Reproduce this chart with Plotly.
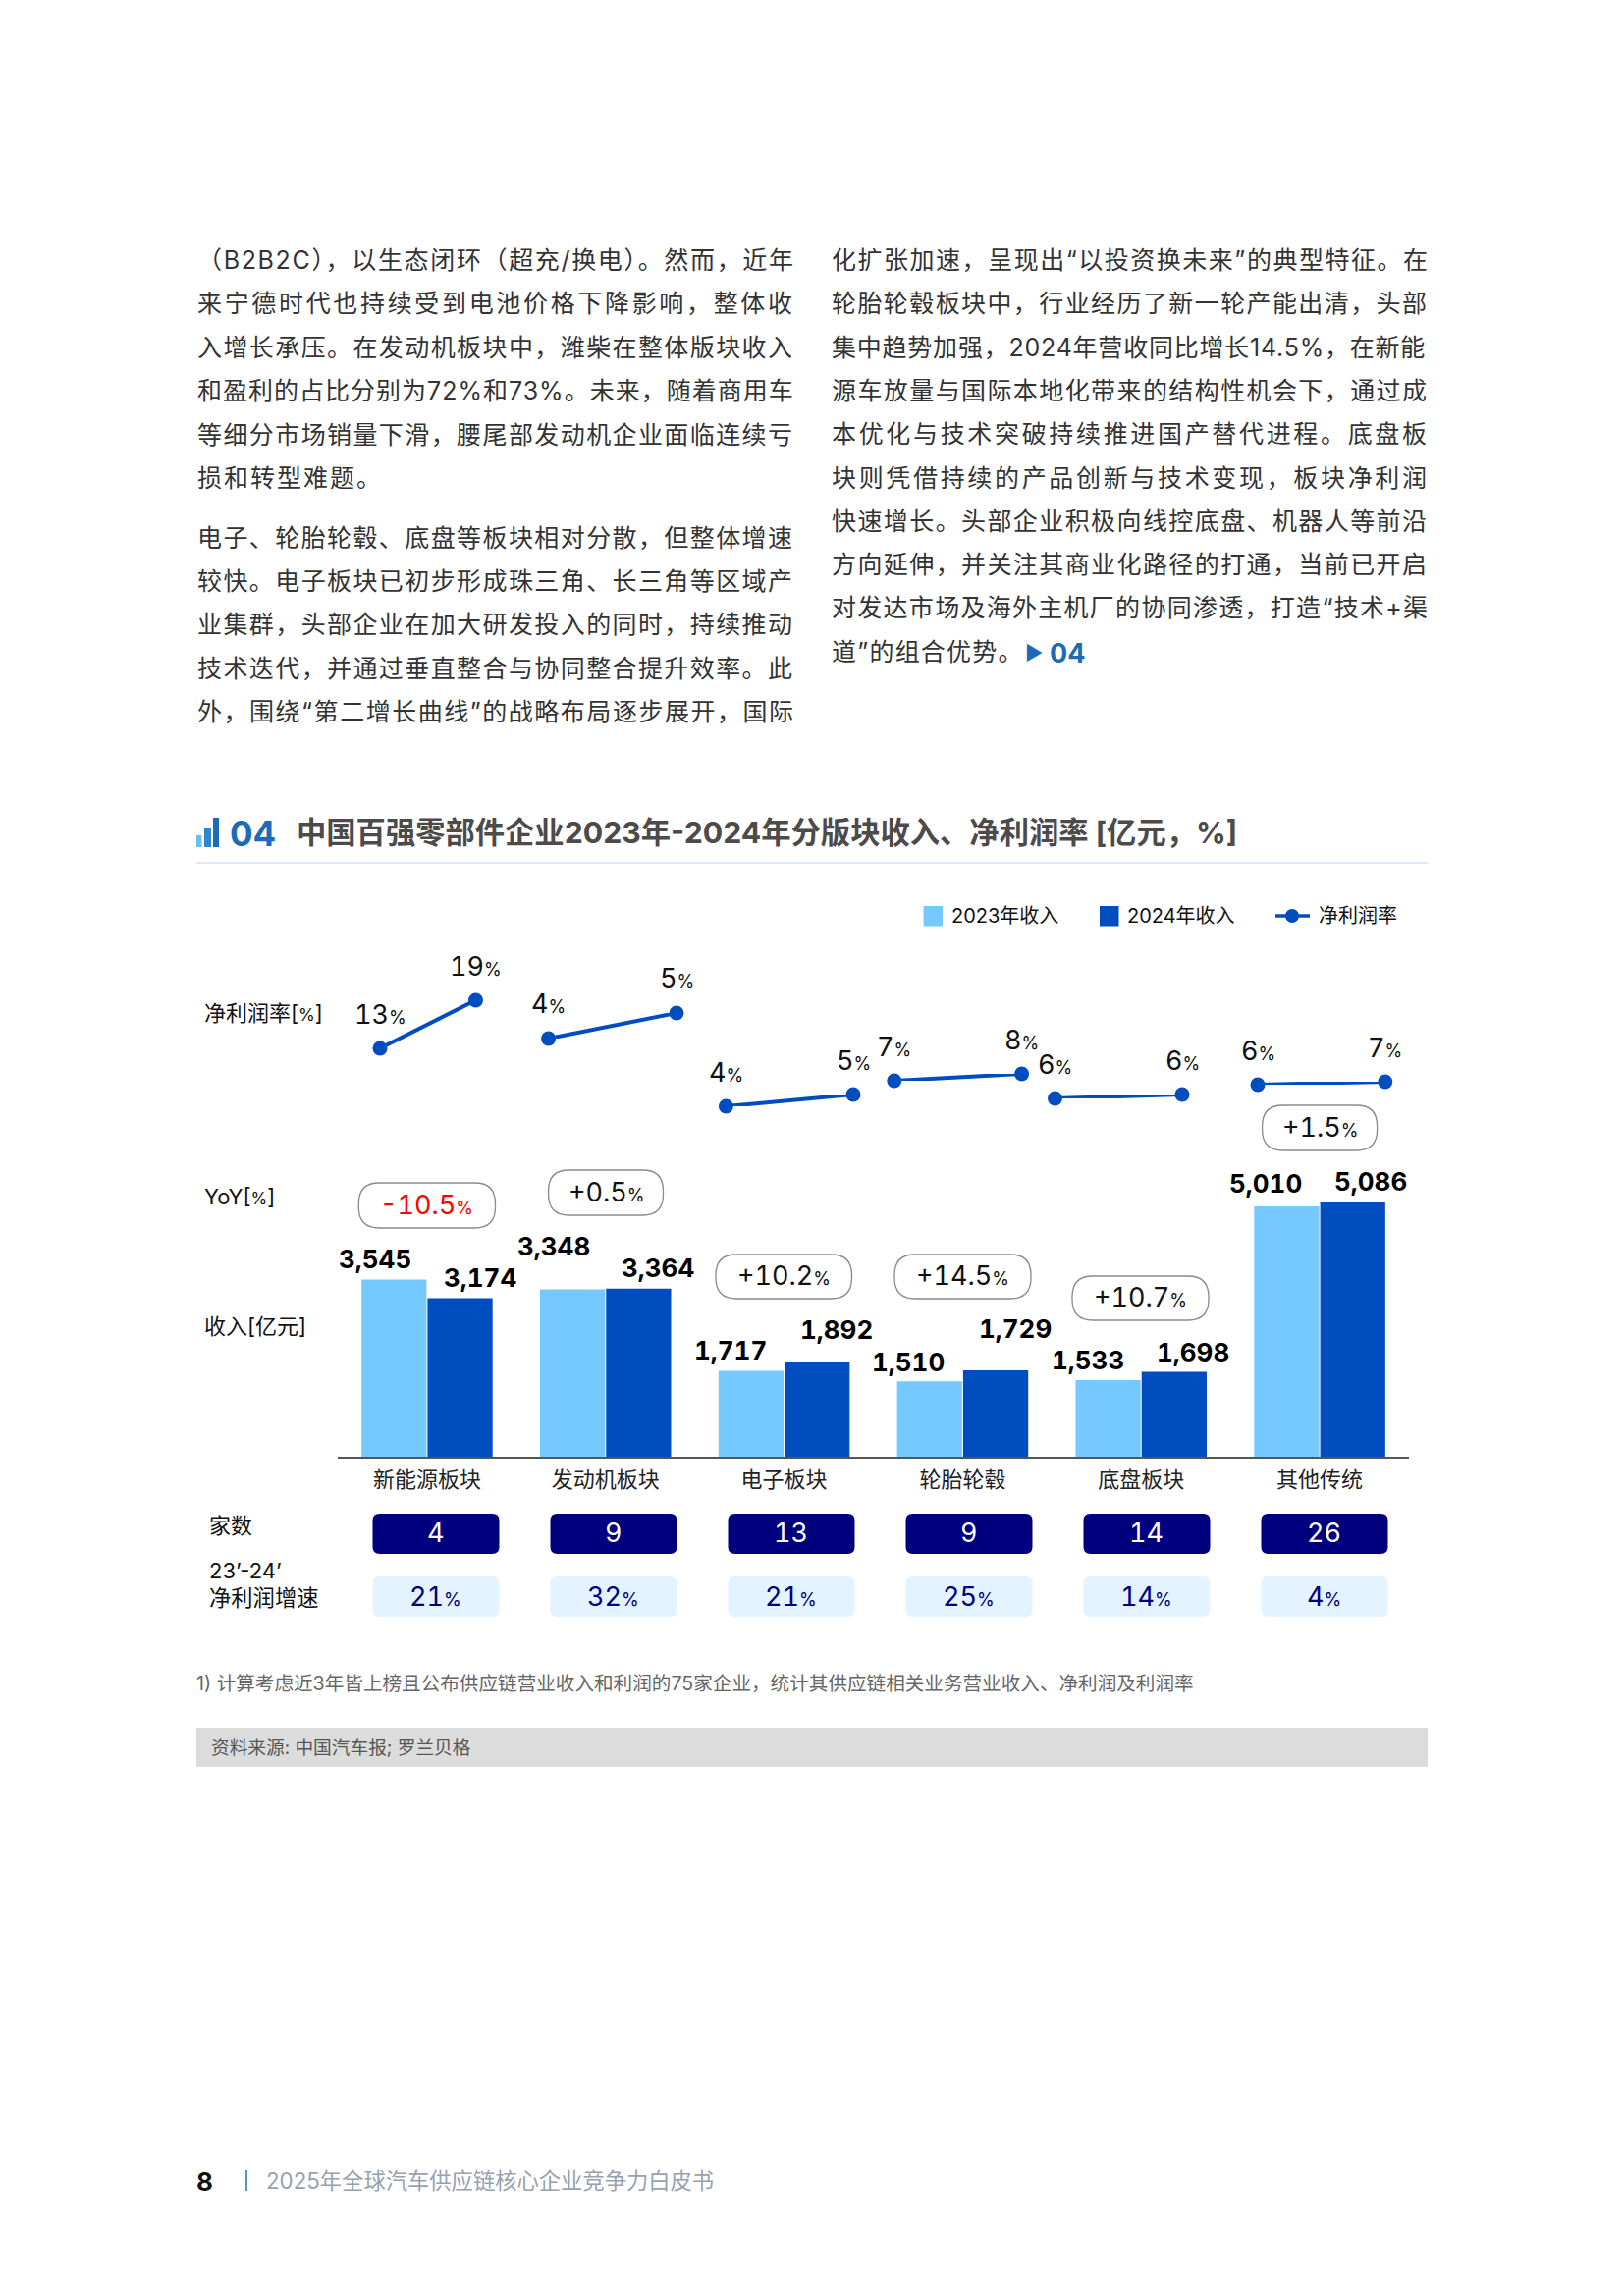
import plotly.graph_objects as go

W, H = 1654, 2339
FONT = "Inter, Noto Sans CJK SC"

# ---------- data ----------
categories = ["新能源板块", "发动机板块", "电子板块", "轮胎轮毂", "底盘板块", "其他传统"]
revenue_2023 = [3545, 3348, 1717, 1510, 1533, 5010]
revenue_2024 = [3174, 3364, 1892, 1729, 1698, 5086]
margin_2023 = [13, 4, 4, 7, 5.8, 6.4]
margin_2024 = [19, 5, 5, 8, 6.2, 6.6]
yoy_labels = ["-10.5", "+0.5", "+10.2", "+14.5", "+10.7", "+1.5"]
company_counts = [4, 9, 13, 9, 14, 26]
profit_growth = [21, 32, 21, 25, 14, 4]

left_lines_a = [
    "（B2B2C），以生态闭环（超充/换电）。然而，近年",
    "来宁德时代也持续受到电池价格下降影响，整体收",
    "入增长承压。在发动机板块中，潍柴在整体版块收入",
    "和盈利的占比分别为72%和73%。未来，随着商用车",
    "等细分市场销量下滑，腰尾部发动机企业面临连续亏",
    "损和转型难题。",
]
left_lines_b = [
    "电子、轮胎轮毂、底盘等板块相对分散，但整体增速",
    "较快。电子板块已初步形成珠三角、长三角等区域产",
    "业集群，头部企业在加大研发投入的同时，持续推动",
    "技术迭代，并通过垂直整合与协同整合提升效率。此",
    "外，围绕“第二增长曲线”的战略布局逐步展开，国际",
]
right_lines = [
    "化扩张加速，呈现出“以投资换未来”的典型特征。在",
    "轮胎轮毂板块中，行业经历了新一轮产能出清，头部",
    "集中趋势加强，2024年营收同比增长14.5%，在新能",
    "源车放量与国际本地化带来的结构性机会下，通过成",
    "本优化与技术突破持续推进国产替代进程。底盘板",
    "块则凭借持续的产品创新与技术变现，板块净利润",
    "快速增长。头部企业积极向线控底盘、机器人等前沿",
    "方向延伸，并关注其商业化路径的打通，当前已开启",
    "对发达市场及海外主机厂的协同渗透，打造“技术+渠",
    "道”的组合优势。",
]

# ---------- layout constants (page pixels) ----------
LIGHT, DARK, NAVY = "#75C9FF", "#004DC0", "#00007F"
BASE_Y = 1484
PLOT_L, PLOT_R = 344, 1435
PX_PER_UNIT = 0.0509
Y_MAX = 6000
BODY_SIZE = 25
COLUMN_W = 606
panel_x = [(387, 484.5), (558.6, 689), (739.4, 869), (910.8, 1040.6), (1074.5, 1204), (1281, 1410.8)]
panel_y = [(1068, 1019), (1058, 1032), (1127, 1115), (1101, 1094), (1119, 1115), (1105, 1102)]
label_dx = [(-19, 20), (-19, 20), (-21, 20), (-22, 20), (-21, 19), (-21, 18)]
label_dy = [(21, 21), (44, 21), (21, 33), (20, 42), (20, 20), (23, 22)]
yoy_pills = [(365.3, 504.5, 1205, 1251), (558.6, 675.5, 1192, 1238), (729, 867.5, 1278, 1323),
             (911, 1050, 1278, 1323), (1092, 1231, 1300, 1345), (1285.6, 1402.6, 1126, 1172)]
TNUM = "font-feature-settings:&quot;tnum&quot;;font-variant-numeric:tabular-nums;"


def px(x):
    return x / W


def py(y):
    return 1 - y / H


def rr(x0, x1, y0, y1, r, fill, line=None, lw=1.3):
    X0, X1, Y0, Y1 = x0, x1, H - y0, H - y1
    path = (f"M{X0+r},{Y1} L{X1-r},{Y1} Q{X1},{Y1} {X1},{Y1+r} L{X1},{Y0-r} Q{X1},{Y0} {X1-r},{Y0} "
            f"L{X0+r},{Y0} Q{X0},{Y0} {X0},{Y0-r} L{X0},{Y1+r} Q{X0},{Y1} {X0+r},{Y1} Z")
    return dict(type="path", path=path, xref="x99", yref="y99", fillcolor=fill,
                line=dict(color=line or fill, width=lw if line else 0))


def rect(x0, x1, y0, y1, fill):
    return dict(type="rect", xref="x99", yref="y99", x0=x0, x1=x1, y0=H - y1, y1=H - y0,
                fillcolor=fill, line=dict(width=0))


def hline(x0, x1, y, color, w=1.5):
    return dict(type="line", xref="x99", yref="y99", x0=x0, x1=x1, y0=H - y, y1=H - y,
                line=dict(color=color, width=w))


def txt(x, y, s, size, color="#111111", anchor="left", bold=False):
    if bold:
        s = f"<b>{s}</b>"
    if anchor == "left":
        x -= 2
    return dict(xref="x99", yref="y99", x=x, y=H - y, text=s, showarrow=False, xanchor=anchor,
                yanchor="middle", align=anchor, font=dict(size=size, color=color, family=FONT))


def tabular(s):
    return f"<span style='font-variant-numeric:tabular-nums;'>{s}</span>"


def pct(s, size, color=None):
    c = f"color:{color};" if color else ""
    return f"{tabular(s)}<span style='font-size:{size}px;{c}'>%</span>"


def em_width(s):
    w = 0
    for ch in s:
        if ch in "“”":
            w += 0.42
        elif ch == "%":
            w += 0.86
        elif ch == "/":
            w += 0.38
        elif ch == ".":
            w += 0.29
        elif ch == "1":
            w += 0.44
        elif ord(ch) < 128:
            w += 0.64
        else:
            w += 1
    return w


def justified(s, target=COLUMN_W, size=BODY_SIZE):
    sp = (target - em_width(s) * size) / (len(s) - 1)
    return f"<span style='letter-spacing:{sp:.3f}px'>{s}</span>"


fig = go.Figure()
fig.add_trace(go.Bar(x=categories, y=revenue_2023, name="2023年收入", marker=dict(color=LIGHT, line=dict(width=0)),
                     showlegend=False, hoverinfo="skip"))
fig.add_trace(go.Bar(x=categories, y=revenue_2024, name="2024年收入", marker=dict(color=DARK, line=dict(width=0)),
                     showlegend=False, hoverinfo="skip"))

shapes, ann = [], []
layout_axes = {}
bar_h = Y_MAX * PX_PER_UNIT
layout_axes["xaxis"] = dict(domain=[px(PLOT_L), px(PLOT_R)], type="category", range=[-0.5, 5.5], showgrid=False,
                            showline=True, linecolor="#555555", linewidth=2, ticks="", anchor="y", zeroline=False,
                            tickfont=dict(size=22, color="#222222", family=FONT), ticklabelstandoff=3)
layout_axes["yaxis"] = dict(domain=[py(BASE_Y), py(BASE_Y - bar_h)], range=[0, Y_MAX], visible=False, anchor="x")

# full-page helper axis for decoration and text
layout_axes["xaxis99"] = dict(domain=[0, 1], range=[0, W], visible=False, anchor="y99")
layout_axes["yaxis99"] = dict(domain=[0, 1], range=[0, H], visible=False, anchor="x99")
fig.add_trace(go.Scatter(x=[0], y=[0], xaxis="x99", yaxis="y99", mode="markers", marker=dict(opacity=0),
                         showlegend=False, hoverinfo="skip"))

# one small line panel per sector, each with its own scale
for i in range(6):
    n = i + 1
    xa, ya = f"x{n+1}", f"y{n+1}"
    a, b = margin_2023[i], margin_2024[i]
    fig.add_trace(go.Scatter(x=[0, 1], y=[a, b], xaxis=xa, yaxis=ya, mode="lines+markers", cliponaxis=False,
                             line=dict(color=DARK, width=4), marker=dict(color=DARK, size=15),
                             showlegend=False, hoverinfo="skip"))
    (x0, x1), (y0, y1) = panel_x[i], panel_y[i]
    layout_axes[f"xaxis{n+1}"] = dict(domain=[px(x0), px(x1)], range=[0, 1], visible=False, anchor=ya)
    layout_axes[f"yaxis{n+1}"] = dict(domain=[py(y0), py(y1)], range=[a, b], visible=False, anchor=xa)
    for xv, yv in ((0, a), (1, b)):
        ann.append(dict(xref=xa, yref=ya, x=xv, y=yv, yshift=35, showarrow=False, xanchor="center", yanchor="middle",
                        text=pct(f"{round(yv)}", 18), font=dict(size=27, color="#111111", family=FONT)))

    # bar value labels, placed from the bar values
    ann.append(dict(xref="x", yref="y", x=categories[i], y=revenue_2023[i], xshift=-33.6 + label_dx[i][0],
                    yshift=label_dy[i][0], showarrow=False, xanchor="center", yanchor="middle",
                    text="<b>" + tabular(f"{revenue_2023[i]:,}") + "</b>",
                    font=dict(size=26, color="#000000", family=FONT)))
    ann.append(dict(xref="x", yref="y", x=categories[i], y=revenue_2024[i], xshift=33.6 + label_dx[i][1],
                    yshift=label_dy[i][1], showarrow=False, xanchor="center", yanchor="middle",
                    text="<b>" + tabular(f"{revenue_2024[i]:,}") + "</b>",
                    font=dict(size=26, color="#000000", family=FONT)))

    # YoY pills
    p = yoy_pills[i]
    shapes.append(rr(p[0], p[1], p[2], p[3], 21, "rgba(255,255,255,0)", "#8A8A8A"))
    col = "#FF0000" if yoy_labels[i].startswith("-") else "#111111"
    ann.append(txt((p[0] + p[1]) / 2, (p[2] + p[3]) / 2 - 1, pct(yoy_labels[i], 18, col), 27, col, "center"))

    # table rows
    cx0 = 379.5 + 181 * i
    shapes.append(rr(cx0, cx0 + 129, 1542, 1583, 7, NAVY))
    shapes.append(rr(cx0, cx0 + 129, 1606, 1647, 7, "#E3F3FF"))
    ann.append(txt(cx0 + 64, 1561.5, tabular(f"{company_counts[i]}"), 27, "#FFFFFF", "center"))
    ann.append(txt(cx0 + 64, 1626, pct(profit_growth[i], 18), 27, NAVY, "center"))

# body text
for j, s in enumerate(left_lines_a):
    target = COLUMN_W + 25 if j == 0 else (187 if j == 5 else COLUMN_W)
    ann.append(txt(201, 265 + 44.4 * j, justified(s, target), BODY_SIZE, "#333333"))
for j, s in enumerate(left_lines_b):
    ann.append(txt(201, 547.5 + 44.4 * j, justified(s), BODY_SIZE, "#333333"))
for j, s in enumerate(right_lines):
    ann.append(txt(847, 265 + 44.3 * j, justified(s, 194 if j == 9 else COLUMN_W), BODY_SIZE, "#333333"))
ann.append(txt(1044, 665, "▶", 20, "#1C6AB8"))
ann.append(txt(1069, 665, "04", 27, "#1C6AB8", bold=True))

# header
shapes += [rect(200, 205.5, 851, 863, "#6CC0EE"), rect(208, 215, 843, 863, "#2F86CF"),
           rect(217, 223, 833, 863, "#1C6AB8"), hline(200, 1454, 879, "#CFE3F3", 1.5)]
ann.append(txt(234, 849, "04", 35, "#1C6AB8", bold=True))
ann.append(txt(302, 848, "中国百强零部件企业2023年-2024年分版块收入、净利润率 [亿元，%]", 30.3, "#4D4A4A", bold=True))

# legend
shapes += [rect(940.6, 960, 923, 943.5, LIGHT), rect(1120, 1139.5, 923, 943.5, DARK),
           hline(1299, 1334, 933, DARK, 3.5)]
shapes.append(dict(type="circle", xref="x99", yref="y99", x0=1309, x1=1323, y0=H - 940, y1=H - 926,
                   fillcolor=DARK, line=dict(width=0)))
ann.append(txt(969, 933, "2023年收入", 20))
ann.append(txt(1148, 933, "2024年收入", 20))
ann.append(txt(1343, 933, "净利润率", 20))

# row titles
ann.append(txt(208, 1032, "净利润率[<span style='font-size:17px'>%</span>]", 22))
ann.append(txt(208, 1219, "YoY[<span style='font-size:17px'>%</span>]", 22))
ann.append(txt(208, 1351, "收入[亿元]", 22))
ann.append(txt(213, 1554, "家数", 22))
ann.append(txt(213, 1600, "23’-24’", 22))
ann.append(txt(213, 1627, "净利润增速", 22.3))

# footnote, source, footer
ann.append(txt(200, 1715, "1) 计算考虑近3年皆上榜且公布供应链营业收入和利润的75家企业，统计其供应链相关业务营业收入、净利润及利润率", 19.6, "#666666"))
shapes.append(rect(200, 1454, 1760, 1800, "#DCDCDC"))
ann.append(txt(215, 1780.5, "资料来源: 中国汽车报; 罗兰贝格", 18.7, "#555555"))
ann.append(txt(200, 2222, "8", 26, "#111111", bold=True))
shapes.append(hline(251, 251, 2221, "#2B6CB0"))
shapes[-1].update(y0=H - 2211, y1=H - 2232)
ann.append(txt(271, 2221, "2025年全球汽车供应链核心企业竞争力白皮书", 22.3, "#97A1AF"))

fig.update_layout(width=W, height=H, autosize=False, margin=dict(l=0, r=0, t=0, b=0),
                  paper_bgcolor="white", plot_bgcolor="rgba(0,0,0,0)", barmode="group",
                  bargap=0.26, bargroupgap=0.015, showlegend=False, shapes=shapes, annotations=ann,
                  font=dict(family=FONT), **layout_axes)
fig.write_html("out.html", config=dict(displayModeBar=False),
               post_script="document.body.style.margin='0';")
